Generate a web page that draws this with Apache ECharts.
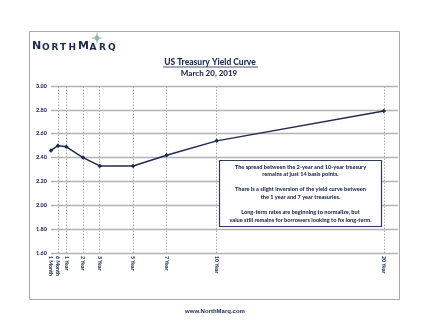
<!DOCTYPE html>
<html>
<head>
<meta charset="utf-8">
<script src="https://cdn.jsdelivr.net/npm/echarts@6/dist/echarts.min.js"></script>
<style>
  html, body { margin: 0; padding: 0; background: #ffffff; }
  #chart { width: 430px; height: 332px; }
</style>
</head>
<body>
<div id="chart"></div>
<script>
// Treasury maturities (in years) and their yields, March 20, 2019
const tenorLabels = ['1 Month', '6 Month', '1 Year', '2 Year', '3 Year', '5 Year', '7 Year', '10 Year', '20 Year'];
const tenorYears = [1 / 12, 0.5, 1, 2, 3, 5, 7, 10, 20];
const yields = [2.46, 2.50, 2.49, 2.40, 2.33, 2.33, 2.42, 2.54, 2.79];

// Y axis range
const yMin = 1.6;
const yMax = 3.0;
const yStep = 0.2;

const noteLines = [
  'The spread between the 2-year and 10-year treasury',
  'remains at just 14 basis points.',
  '',
  'There is a slight inversion of the yield curve between',
  'the 1 year and 7 year treasuries.',
  '',
  'Long-term rates are beginning to normalize, but',
  'value still remains for borrowers looking to fix long-term.'
];

const NAVY = '#1f2b4e';
const GRID = '#b3b3b3';
const FONT = 'Lato, "Open Sans", sans-serif';

const chart = echarts.init(document.getElementById('chart'), null, { renderer: 'canvas' });

// Logo letters: large initials, small caps for the rest
const logoLetters = [
  ['N', 11], ['O', 9], ['R', 9], ['T', 9], ['H', 9],
  ['M', 11], ['A', 9], ['R', 9], ['Q', 9]
];
const logoX = [32, 42, 51.5, 60, 68.5, 78, 89.5, 99, 108];

function starPoints(cx, cy, rOuter, rInner, n) {
  const pts = [];
  for (let i = 0; i < n * 2; i++) {
    const r = i % 2 === 0 ? rOuter : rInner;
    const a = -Math.PI / 2 + i * Math.PI / n;
    pts.push([cx + r * Math.cos(a), cy + r * Math.sin(a)]);
  }
  return pts;
}

const graphics = [
  // page frame
  { type: 'rect', silent: true, z: -10,
    shape: { x: 29.5, y: 31.5, width: 370, height: 268 },
    style: { fill: '#ffffff', stroke: '#a8a8a8', lineWidth: 1 } },
  // compass star above the logo
  { type: 'polygon', silent: true,
    shape: { points: starPoints(97, 38, 6.5, 1.2, 4) },
    style: { fill: '#6f9a9a' } },
  { type: 'polygon', silent: true, rotation: Math.PI / 4, originX: 97, originY: 38,
    shape: { points: starPoints(97, 38, 4, 0.9, 4) },
    style: { fill: '#8fb3b3' } },
  // title
  { type: 'text', silent: true,
    style: { x: 210, y: 62, text: 'US Treasury Yield Curve', fill: NAVY,
      font: '900 8.5px ' + FONT, align: 'center', verticalAlign: 'middle' } },
  { type: 'line', silent: true,
    shape: { x1: 163, y1: 67, x2: 258, y2: 67 },
    style: { stroke: NAVY, lineWidth: 0.8 } },
  { type: 'text', silent: true,
    style: { x: 209, y: 73.5, text: 'March 20, 2019', fill: NAVY,
      font: '900 8px ' + FONT, align: 'center', verticalAlign: 'middle' } },
  // commentary box
  { type: 'rect', silent: true, z: 10,
    shape: { x: 219.5, y: 160.5, width: 162, height: 66 },
    style: { fill: '#ffffff', stroke: '#2e3b5e', lineWidth: 1.2 } },
  { type: 'text', silent: true, z: 11,
    style: { x: 300.5, y: 163, text: noteLines.join('\n'), fill: NAVY,
      font: '900 5.6px ' + FONT, align: 'center', verticalAlign: 'top', lineHeight: 7.6 } },
  // footer
  { type: 'text', silent: true,
    style: { x: 215, y: 311, text: 'www.NorthMarq.com', fill: NAVY,
      font: 'bold 6px "Liberation Sans", Arial, sans-serif', align: 'center', verticalAlign: 'middle' } }
];

logoLetters.forEach(function (l, i) {
  graphics.push({
    type: 'text', silent: true,
    style: { x: logoX[i], y: 52, text: l[0], fill: NAVY,
      font: 'bold ' + l[1] + 'px "DejaVu Sans", sans-serif', align: 'left', verticalAlign: 'bottom' }
  });
});

const option = {
  backgroundColor: '#ffffff',
  animation: false,
  grid: { left: 51, right: 32, top: 86, bottom: 79, containLabel: false },
  xAxis: {
    type: 'value',
    min: tenorYears[0],
    max: 20.85,
    axisLine: { show: false },
    axisTick: { show: false },
    splitLine: { show: false },
    axisLabel: {
      customValues: tenorYears,
      rotate: -90,
      margin: 3,
      color: NAVY,
      fontFamily: FONT,
      fontWeight: 900,
      fontSize: 5.2,
      formatter: function (v) {
        let best = 0;
        tenorYears.forEach(function (t, i) {
          if (Math.abs(t - v) < Math.abs(tenorYears[best] - v)) best = i;
        });
        return tenorLabels[best];
      }
    }
  },
  yAxis: {
    type: 'value',
    min: yMin,
    max: yMax,
    interval: yStep,
    axisLine: { show: false },
    axisTick: { show: false },
    splitLine: { show: true, lineStyle: { color: GRID, width: 1.3 } },
    axisLabel: {
      margin: 4,
      color: NAVY,
      fontFamily: FONT,
      fontWeight: 900,
      fontSize: 5.5,
      formatter: function (v) { return v.toFixed(2); }
    }
  },
  series: [{
    type: 'line',
    data: tenorYears.map(function (t, i) { return [t, yields[i]]; }),
    symbol: 'diamond',
    symbolSize: 4.5,
    lineStyle: { color: NAVY, width: 1.5 },
    itemStyle: { color: NAVY },
    z: 5,
    markLine: {
      silent: true,
      symbol: ['none', 'none'],
      label: { show: false },
      lineStyle: { color: '#9a9a9a', type: [1.5, 1.5], width: 0.8 },
      data: tenorYears.map(function (t) { return { xAxis: t }; })
    }
  }],
  graphic: graphics
};

chart.setOption(option);
</script>
</body>
</html>
